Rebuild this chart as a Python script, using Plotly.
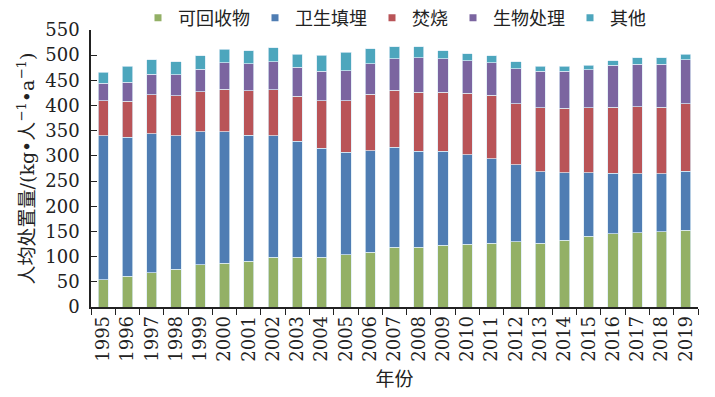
import plotly.graph_objects as go

years = [str(y) for y in range(1995, 2020)]
recyclable = [54, 61, 68, 75, 84, 87, 91, 99, 99, 99, 104, 109, 119, 119, 123, 125, 127, 130, 127, 133, 140, 145, 147, 149, 152]
landfill = [286, 276, 276, 265, 264, 261, 250, 241, 230, 216, 203, 201, 198, 190, 186, 177, 167, 152, 142, 134, 127, 121, 118, 116, 118]
incineration = [70, 72, 77, 79, 79, 84, 88, 91, 89, 95, 103, 112, 113, 117, 117, 122, 126, 122, 127, 128, 129, 131, 133, 132, 134]
biological = [34, 37, 41, 42, 45, 53, 54, 56, 58, 58, 59, 61, 63, 69, 67, 65, 65, 69, 72, 73, 75, 83, 84, 85, 87]
other = [22, 32, 29, 26, 27, 27, 26, 28, 26, 32, 37, 30, 24, 22, 16, 14, 14, 14, 10, 10, 9, 9, 13, 13, 11]

names = ["可回收物", "卫生填埋", "焚烧", "生物处理", "其他"]
colors = ["#93B066", "#4F7DB3", "#B95458", "#7B65A0", "#4DA6BD"]
series = [recyclable, landfill, incineration, biological, other]
y_ticks = list(range(0, 551, 50))

FONT = "DejaVu Serif, Noto Sans CJK SC"

fig = go.Figure()
for name, color, vals in zip(names, colors, series):
    fig.add_trace(go.Bar(
        x=years, y=vals, name=name, showlegend=False,
        marker=dict(color=color, line=dict(color="rgba(220,235,245,0.9)", width=0.8)),
    ))
for name, color in zip(names, colors):
    fig.add_trace(go.Scatter(
        x=[None], y=[None], mode="markers", name=name,
        marker=dict(symbol="square", size=7, color=color),
    ))

fig.update_layout(
    width=707, height=389,
    barmode="stack", bargap=0.58,
    plot_bgcolor="white", paper_bgcolor="white",
    margin=dict(l=83, r=17, t=22, b=90, autoexpand=False),
    font=dict(family=FONT, size=18, color="#222"),
    legend=dict(orientation="h", x=0.5, xanchor="center", y=1.043, yanchor="middle",
                font=dict(size=18), itemwidth=30, traceorder="normal",
                bgcolor="rgba(0,0,0,0)"),
    xaxis=dict(
        type="category", tickangle=-90, tickson="boundaries",
        ticks="outside", ticklen=6, tickcolor="#222",
        showline=True, linecolor="#222", linewidth=1.5,
        tickfont=dict(size=18),
        title=dict(text="年份", font=dict(size=19), standoff=12),
    ),
    yaxis=dict(
        range=[0, 550], tickvals=y_ticks, ticks="inside", ticklen=6,
        tickcolor="#222", showline=True, linecolor="#222", linewidth=1.5,
        showgrid=False, zeroline=False, tickfont=dict(size=18),
        ticklabelstandoff=6,
        title=dict(text="人均处置量/(kg•人<sup>−1</sup>•a<sup>−1</sup>)", font=dict(size=19), standoff=6),
    ),
)

fig.write_html("out.html")
